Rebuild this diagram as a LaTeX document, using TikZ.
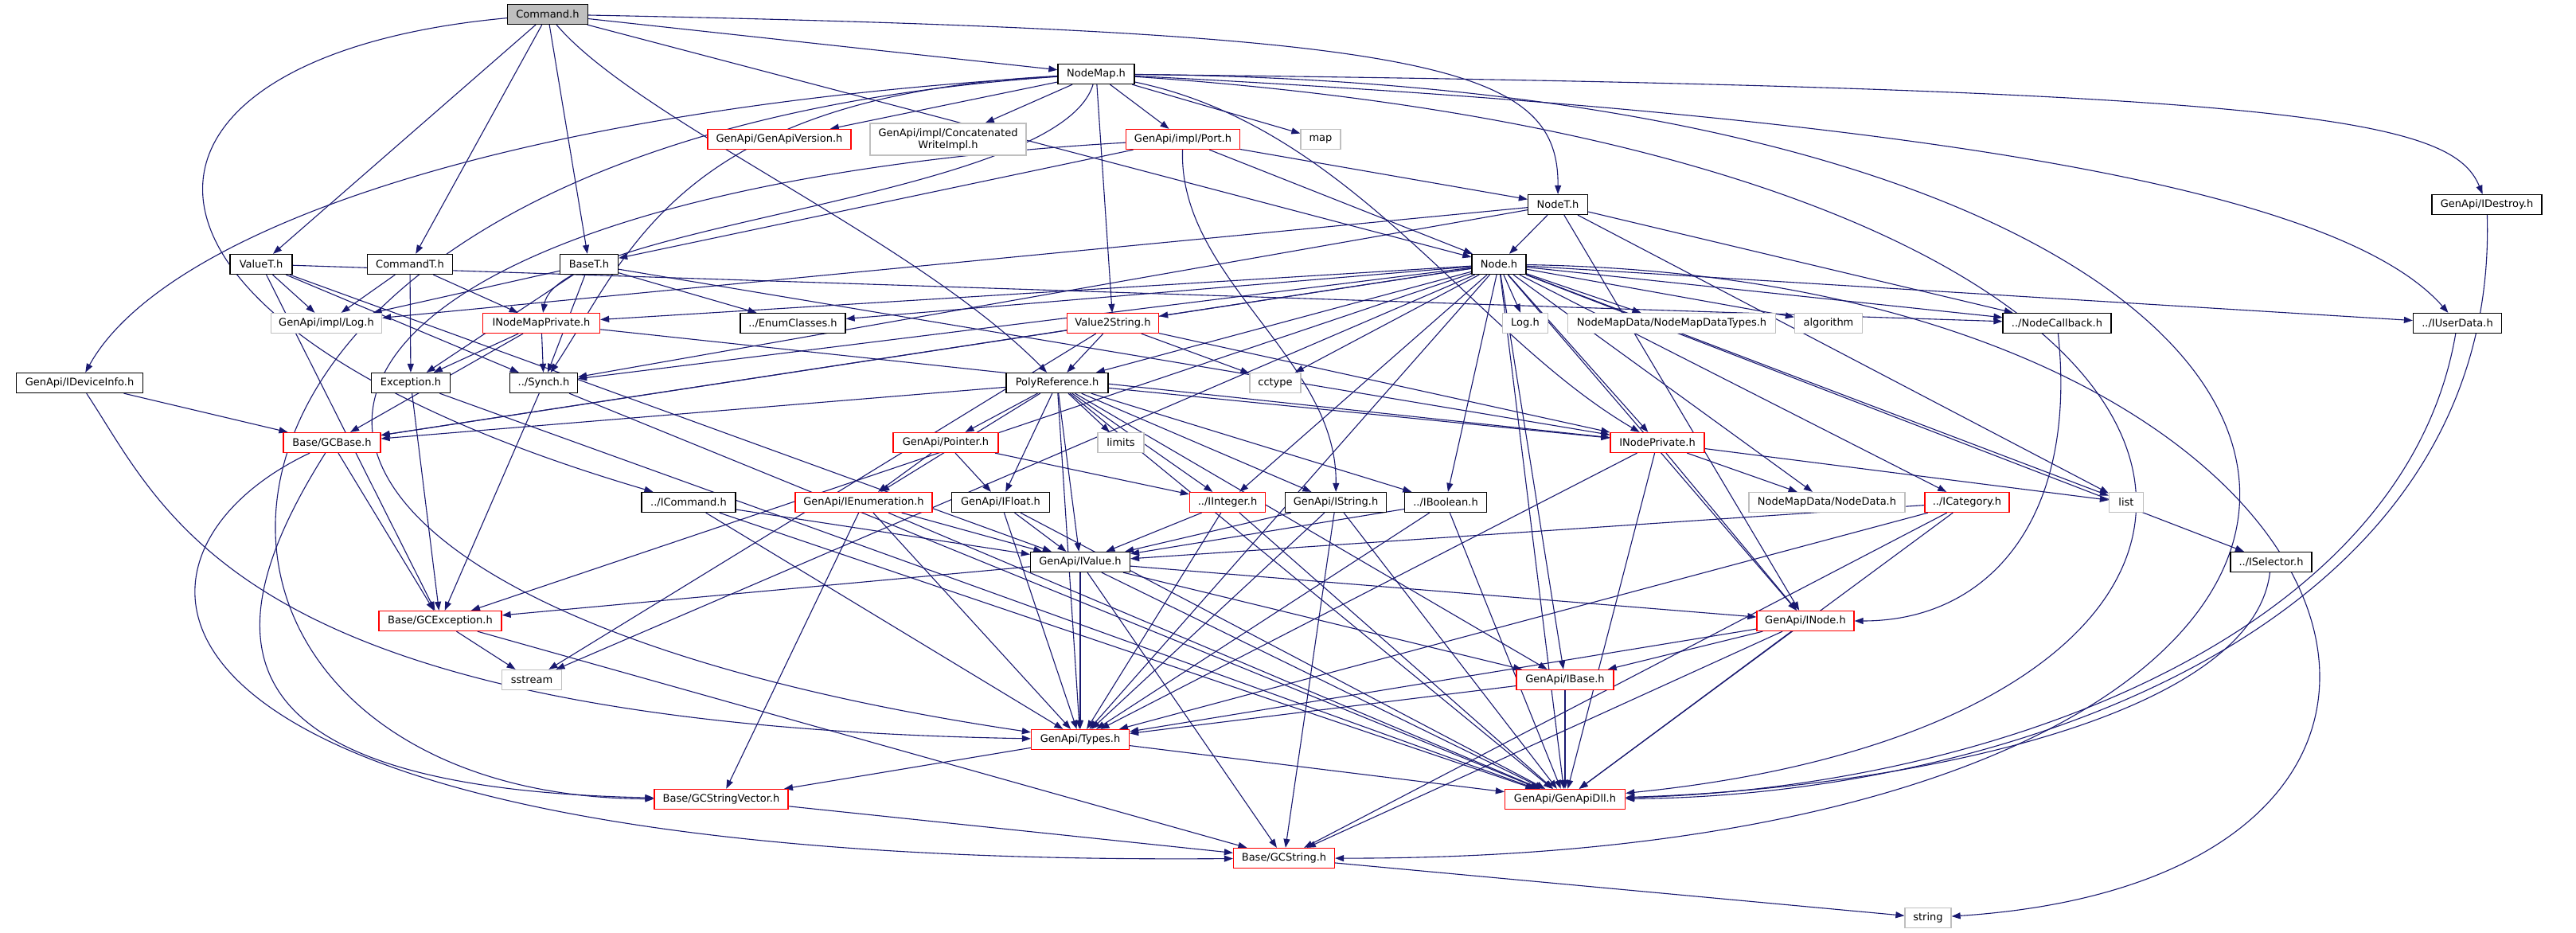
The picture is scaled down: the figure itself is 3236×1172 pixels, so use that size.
\documentclass[tikz,border=0pt]{standalone}
\usepackage{fontspec}
\setmainfont{DejaVu Sans}
\usepackage{tikz}
\usetikzlibrary{arrows.meta}
\usetikzlibrary{backgrounds}
\definecolor{edgeblue}{RGB}{25,25,112}
\definecolor{rootgray}{RGB}{191,191,191}
\definecolor{sysgray}{RGB}{191,191,191}
\definecolor{truncred}{RGB}{255,0,0}
\newcommand{\hfont}{\fontsize{13}{15}\selectfont}
\tikzset{hdr/.style={draw=black,line width=1.3pt,fill=white,minimum height=25pt,inner xsep=0pt,inner ysep=2pt,font=\hfont,align=center}}
\tikzset{root/.style={hdr,fill=rootgray}}
\tikzset{trunc/.style={hdr,draw=truncred}}
\tikzset{sys/.style={hdr,draw=sysgray}}
\tikzset{dep/.style={draw=edgeblue,line width=1.1pt,-{Triangle[length=11pt,width=8pt]}}}

\begin{document}
\begin{tikzpicture}[x=1pt,y=-1pt]
\useasboundingbox (0,0) rectangle (3236,1172);
% top rows
\node[root,minimum width=101pt] (cmd) at (688,18) {Command.h};
\node[hdr,minimum width=96pt] (nmap) at (1377,93) {NodeMap.h};
\node[trunc,minimum width=180pt] (gver) at (979,175) {GenApi/GenApiVersion.h};
\node[sys,minimum width=196pt,minimum height=40pt] (cwri) at (1191,175) {GenApi/impl/Concatenated\\WriteImpl.h};
\node[trunc,minimum width=143pt] (port) at (1486,175) {GenApi/impl/Port.h};
\node[sys,minimum width=50pt] (map) at (1659,175) {map};
\node[hdr,minimum width=75pt] (nodet) at (1957,257) {NodeT.h};
\node[hdr,minimum width=138pt] (idst) at (3124,257) {GenApi/IDestroy.h};
\node[hdr,minimum width=68pt] (node) at (1883,332) {Node.h};
\node[hdr,minimum width=78pt] (valt) at (328,332) {ValueT.h};
\node[hdr,minimum width=107pt] (cmdt) at (515,332) {CommandT.h};
\node[hdr,minimum width=73pt] (baset) at (740,332) {BaseT.h};
% middle rows
\node[sys,minimum width=139pt] (ilog) at (410,406) {GenApi/impl/Log.h};
\node[trunc,minimum width=147pt] (inmp) at (680,406) {INodeMapPrivate.h};
\node[hdr,minimum width=132pt] (enumc) at (996,406) {../EnumClasses.h};
\node[trunc,minimum width=115pt] (v2s) at (1398,406) {Value2String.h};
\node[sys,minimum width=57pt] (logh) at (1916,406) {Log.h};
\node[sys,minimum width=261pt] (nmdt) at (2100,406) {NodeMapData/NodeMapDataTypes.h};
\node[sys,minimum width=85pt] (algo) at (2297,406) {algorithm};
\node[hdr,minimum width=136pt] (ncb) at (2584,406) {../NodeCallback.h};
\node[hdr,minimum width=111pt] (iusr) at (3087,406) {../IUserData.h};
\node[hdr,minimum width=159pt] (idev) at (100,481) {GenApi/IDeviceInfo.h};
\node[hdr,minimum width=99pt] (exc) at (516,481) {Exception.h};
\node[hdr,minimum width=85pt] (synch) at (683,481) {../Synch.h};
\node[hdr,minimum width=128pt] (polyr) at (1328,481) {PolyReference.h};
\node[sys,minimum width=64pt] (cctype) at (1602,481) {cctype};
\node[trunc,minimum width=122pt] (gcbase) at (417,556) {Base/GCBase.h};
\node[trunc,minimum width=132pt] (ptr) at (1188,556) {GenApi/Pointer.h};
\node[sys,minimum width=58pt] (limits) at (1408,556) {limits};
\node[trunc,minimum width=118pt] (inpr) at (2082,556) {INodePrivate.h};
\node[hdr,minimum width=118pt] (icmd) at (865,631) {../ICommand.h};
\node[trunc,minimum width=172pt] (ienum) at (1085,631) {GenApi/IEnumeration.h};
\node[hdr,minimum width=123pt] (ifloat) at (1257,631) {GenApi/IFloat.h};
\node[trunc,minimum width=95pt] (iint) at (1542,631) {../IInteger.h};
\node[hdr,minimum width=127pt] (istr) at (1678,631) {GenApi/IString.h};
\node[hdr,minimum width=103pt] (ibool) at (1816,631) {../IBoolean.h};
\node[sys,minimum width=196pt] (ndata) at (2295,631) {NodeMapData/NodeData.h};
\node[trunc,minimum width=106pt] (icat) at (2471,631) {../ICategory.h};
\node[sys,minimum width=43pt] (list) at (2671,631) {list};
\node[hdr,minimum width=125pt] (ival) at (1357,706) {GenApi/IValue.h};
\node[hdr,minimum width=102pt] (isel) at (2853,706) {../ISelector.h};
% bottom rows
\node[trunc,minimum width=154pt] (gcexc) at (553,780) {Base/GCException.h};
\node[trunc,minimum width=122pt] (inode) at (2268,780) {GenApi/INode.h};
\node[sys,minimum width=75pt] (sstr) at (668,854) {sstream};
\node[trunc,minimum width=122pt] (ibase) at (1966,854) {GenApi/IBase.h};
\node[trunc,minimum width=123pt] (types) at (1357,929) {GenApi/Types.h};
\node[trunc,minimum width=168pt] (gcsv) at (906,1004) {Base/GCStringVector.h};
\node[trunc,minimum width=151pt] (dll) at (1966,1004) {GenApi/GenApiDll.h};
\node[trunc,minimum width=127pt] (gcstr) at (1613,1078) {Base/GCString.h};
\node[sys,minimum width=58pt] (str) at (2422,1153) {string};

\begin{pgfonlayer}{background}
\fill[white] (0,0) rectangle (3236,1172);
% Command.h
\foreach \t in {nmap,node,valt,cmdt,baset} \draw[dep] (cmd) -- (\t);
\draw[dep] (cmd) .. controls (800,150) and (1150,300) .. (polyr);
\draw[dep] (cmd) .. controls (120,70) and (80,400) .. (icmd);
\draw[dep] (cmd) .. controls (1800,40) and (1958,80) .. (nodet);
% NodeMap.h
\foreach \t in {gver,cwri,port,map,v2s} \draw[dep] (nmap) -- (\t);
\draw[dep] (nmap) .. controls (1700,160) and (1850,420) .. (inpr);
\draw[dep] (nmap) .. controls (1330,250) and (700,280) .. (inmp);
\draw[dep] (nmap) .. controls (850,120) and (790,320) .. (synch);
\draw[dep] (nmap) .. controls (600,140) and (200,300) .. (idev);
\draw[dep] (nmap) .. controls (100,180) and (140,1000) .. (gcsv);
\draw[dep] (nmap) .. controls (2500,150) and (2950,250) .. (iusr);
\draw[dep] (nmap) .. controls (2900,110) and (3080,150) .. (idst);
\draw[dep] (nmap) .. controls (3230,110) and (3230,1080) .. (gcstr);
\draw[dep] (nmap) .. controls (2950,200) and (3000,900) .. (dll);
% GenApi/impl/Port.h
\foreach \t in {nodet,node,baset} \draw[dep] (port) -- (\t);
\draw[dep] (port) .. controls (200,250) and (150,750) .. (types);
\draw[dep] (port) .. controls (1480,350) and (1680,450) .. (istr);
% NodeT.h
\foreach \t in {node,ilog,synch,ncb,list,inode} \draw[dep] (nodet) -- (\t);
% Node.h
\foreach \t in {inmp,enumc,v2s,synch,gcbase,gcexc,logh,nmdt,algo,ncb,iusr,list,inpr,icat,isel,ndata,iint,ibool,inode,dll,cctype,sstr,types,polyr,ibase} \draw[dep] (node) -- (\t);
\draw[dep] (node) .. controls (3000,350) and (3230,1100) .. (str);
% ValueT.h, CommandT.h, BaseT.h
\foreach \t in {ilog,synch,gcexc,ncb,ival} \draw[dep] (valt) -- (\t);
\foreach \t in {ilog,exc,inmp} \draw[dep] (cmdt) -- (\t);
\foreach \t in {ilog,exc,synch,enumc,inpr} \draw[dep] (baset) -- (\t);
% private headers
\foreach \t in {exc,synch,gcbase,inpr} \draw[dep] (inmp) -- (\t);
\foreach \t in {gcexc,dll} \draw[dep] (exc) -- (\t);
\foreach \t in {gcexc,dll} \draw[dep] (synch) -- (\t);
\draw[dep] (idev) -- (gcbase);
\draw[dep] (idev) .. controls (212,650) and (300,910) .. (types);
\draw[dep] (gcbase) -- (gcexc);
\draw[dep] (gcbase) .. controls (263,800) and (263,990) .. (gcsv);
\draw[dep] (gcbase) .. controls (111,700) and (111,1090) .. (gcstr);
\foreach \t in {polyr,cctype,sstr,gcbase,inpr} \draw[dep] (v2s) -- (\t);
% PolyReference.h and interfaces
\foreach \t in {ptr,limits,ifloat,iint,ival,istr,ibool,ienum,ibase,dll,gcbase,types,inpr} \draw[dep] (polyr) -- (\t);
\foreach \t in {ienum,ifloat,iint} \draw[dep] (ptr) -- (\t);
\foreach \t in {ival,types,dll} \draw[dep] (icmd) -- (\t);
\foreach \t in {ival,types,dll,gcsv} \draw[dep] (ienum) -- (\t);
\foreach \t in {ival,types,dll} \draw[dep] (ifloat) -- (\t);
\foreach \t in {ival,types,dll} \draw[dep] (iint) -- (\t);
\foreach \t in {ival,types,dll,gcstr} \draw[dep] (istr) -- (\t);
\foreach \t in {ival,types,dll} \draw[dep] (ibool) -- (\t);
\foreach \t in {gcexc,inode,ibase,types,dll,gcstr} \draw[dep] (ival) -- (\t);
\foreach \t in {list,ndata,inode,types,dll} \draw[dep] (inpr) -- (\t);
\foreach \t in {ival,types,dll,gcstr} \draw[dep] (icat) -- (\t);
\draw[dep] (isel) .. controls (2830,900) and (2400,990) .. (dll);
\draw[dep] (ncb) .. controls (2610,650) and (2500,780) .. (inode);
\draw[dep] (iusr) .. controls (3020,800) and (2500,990) .. (dll);
\draw[dep] (idst) .. controls (3140,800) and (2500,1000) .. (dll);
\foreach \t in {ibase,types,dll,gcstr} \draw[dep] (inode) -- (\t);
\foreach \t in {types,dll} \draw[dep] (ibase) -- (\t);
% base types
\foreach \t in {sstr,gcstr} \draw[dep] (gcexc) -- (\t);
\foreach \t in {gcsv,dll} \draw[dep] (types) -- (\t);
\draw[dep] (gcsv) -- (gcstr);
\draw[dep] (gcstr) -- (str);
\end{pgfonlayer}
\end{tikzpicture}
\end{document}
